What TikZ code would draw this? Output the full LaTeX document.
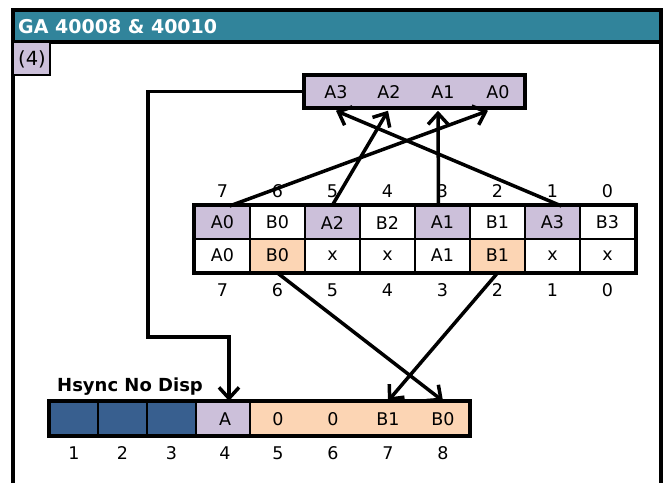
\documentclass[tikz,border=0pt]{standalone}
\usepackage{fontspec}
\setmainfont{DejaVu Sans}
\usetikzlibrary{arrows.meta,calc}
\definecolor{hdrteal}{HTML}{31849B}
\definecolor{lav}{HTML}{CCC0DA}
\definecolor{peach}{HTML}{FCD5B4}
\definecolor{dblue}{HTML}{385F8F}
\tikzset{
  txt/.style={font=\fontsize{17.5}{20}\selectfont, inner sep=0pt},
  cell/.style={draw, line width=2pt, minimum width=55pt, minimum height=33pt, inner sep=0pt, font=\fontsize{17.5}{20}\selectfont},
  thick3/.style={line width=3.5pt},
  arr/.style={line width=3.5pt, -{Straight Barb[length=11pt,width=20pt]}},
}
\begin{document}
\begin{tikzpicture}[x=1pt,y=-1pt]
\useasboundingbox (0,0) rectangle (667,483);
% frame and title
\fill[hdrteal] (13,10) rectangle (661,42);
\draw[thick3] (13,483) -- (13,10) -- (661,10) -- (661,483);
\draw[thick3] (13,42) -- (661,42);
\node[anchor=west, text=white, font=\bfseries\fontsize{19}{22}\selectfont, inner sep=0pt] (title) at (18,27) {GA 40008 \& 40010};
\node[fill=lav, minimum width=36pt, minimum height=32pt, inner sep=0pt, font=\fontsize{19.5}{22}\selectfont] (step4) at (32,59) {(4)};
\draw[line width=2.5pt] (step4.north east) -- (step4.south east) -- (step4.south west);
% top box
\node[draw, thick3, fill=lav, minimum width=221pt, minimum height=33pt] (topbox) at (414.5,91.5) {};
\node[txt] (t3) at (336,92) {A3};
\node[txt] (t2) at (389,92) {A2};
\node[txt] (t1) at (443,92) {A1};
\node[txt] (t0) at (498,92) {A0};
% middle table
\foreach \i/\a/\fa/\b/\fb/\n in {0/A0/lav/A0/white/7, 1/B0/white/B0/peach/6, 2/A2/lav/x/white/5, 3/B2/white/x/white/4, 4/A1/lav/A1/white/3, 5/B1/white/B1/peach/2, 6/A3/lav/x/white/1, 7/B3/white/x/white/0}{
  \node[cell, fill=\fa] (ra\i) at (222.5+55*\i,222.5) {\a};
  \node[cell, fill=\fb] (rb\i) at (222.5+55*\i,255.5) {\b};
  \node[txt] (na\i) at (222.5+55*\i,191) {\n};
  \node[txt] (nb\i) at (222.5+55*\i,290) {\n};
}
\draw[thick3] (ra0.north west) rectangle (rb7.south east);
% bottom row
\node[draw, line width=2pt, fill=dblue, minimum width=48pt, minimum height=33pt] (b1) at (74,418.5) {};
\node[draw, line width=2pt, fill=dblue, minimum width=49pt, minimum height=33pt] (b2) at (122.5,418.5) {};
\node[draw, line width=2pt, fill=dblue, minimum width=49pt, minimum height=33pt] (b3) at (171.5,418.5) {};
\node[draw, line width=2pt, fill=lav, minimum width=54pt, minimum height=33pt] (b4) at (223,418.5) {};
\node[txt] (b4t) at (225,419) {A};
\node[draw, line width=2pt, fill=peach, minimum width=219pt, minimum height=33pt] (bp) at (359.5,418.5) {};
\node[txt] (b5) at (278,419) {0};
\node[txt] (b6) at (333,419) {0};
\node[txt] (b7) at (388,419) {B1};
\node[txt] (b8) at (443,419) {B0};
\draw[thick3] (b1.north west) rectangle (bp.south east);
\foreach \x/\n in {74/1,122.5/2,171.5/3,225/4,278/5,333/6,388/7,443/8}{
  \node[txt] (bn\n) at (\x,453) {\n};
}
\node[anchor=west, font=\bfseries\fontsize{18}{21}\selectfont, inner sep=0pt] (hs) at (57,387) {Hsync No Disp};
% connectors
\coordinate (c1) at (148,91.5);
\coordinate (c2) at (148,337);
\coordinate (c3) at (229,337);
\draw[arr] (topbox.west) -- (c1) -- (c2) -- (c3) -- (c3 |- b4.north);
\draw[arr] ($(ra0.north)+(7,1)$) -- ($(t0 |- topbox.south)+(-10,1)$);
\draw[arr] (ra2.north) -- ($(t2 |- topbox.south)+(-1,1)$);
\draw[arr] ($(ra4.north)+(-4,1)$) -- ($(t1 |- topbox.south)+(-5,1)$);
\draw[arr] ($(ra6.north)+(9,1)$) -- ($(t3 |- topbox.south)+(0,1)$);
\draw[arr] (rb1.south) -- (b8.center |- bp.north);
\draw[arr] (rb5.south) -- (b7.center |- bp.north);
\end{tikzpicture}
\end{document}
